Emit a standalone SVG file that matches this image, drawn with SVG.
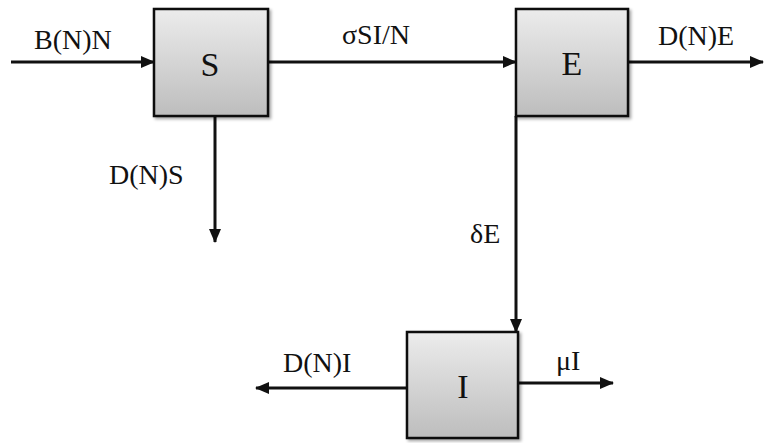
<svg xmlns="http://www.w3.org/2000/svg" width="764" height="443" viewBox="0 0 764 443">
<style>
.box{stroke:#111;stroke-width:2.5;fill:url(#g)}
.ln{stroke:#111;stroke-width:3;fill:none;marker-end:url(#ah)}
.big{font-size:34px}
</style>
<defs>
<linearGradient id="g" x1="0" y1="0" x2="0" y2="1">
<stop offset="0" stop-color="#ececec"/>
<stop offset="1" stop-color="#bdbdbd"/>
</linearGradient>
<filter id="sh" x="-10%" y="-10%" width="130%" height="130%">
<feDropShadow dx="2" dy="2" stdDeviation="1.5" flood-color="#000" flood-opacity="0.35"/>
</filter>
<marker id="ah" markerWidth="14" markerHeight="12" refX="13" refY="6" orient="auto" markerUnits="userSpaceOnUse">
<path d="M0,0 L14,6 L0,12 Z" fill="#111"/>
</marker>
</defs>
<g font-family="'Liberation Serif', 'Times New Roman', serif" font-size="28" fill="#111">
<g id="connectors">
<path class="ln" d="M11,62 H154"/>
<path class="ln" d="M268,62 H516"/>
<path class="ln" d="M628,62 H763"/>
<path class="ln" d="M215,116 V242"/>
<path class="ln" d="M516,116 V332"/>
<path class="ln" d="M407,388 H256"/>
<path class="ln" d="M518,383 H613"/>
<text x="34" y="49">B(N)N</text>
<text x="342" y="44">σSI/N</text>
<text x="658" y="45">D(N)E</text>
<text x="109" y="184">D(N)S</text>
<text x="470" y="243">δE</text>
<text x="283" y="372">D(N)I</text>
<text x="556" y="370">μI</text>
</g>
<g id="S">
<rect class="box" x="154" y="9" width="114" height="107" filter="url(#sh)"/>
<text class="big" x="210" y="76" text-anchor="middle">S</text>
</g>
<g id="E">
<rect class="box" x="516" y="9" width="112" height="107" filter="url(#sh)"/>
<text class="big" x="572" y="75" text-anchor="middle">E</text>
</g>
<g id="I">
<rect class="box" x="407" y="332" width="111" height="106" filter="url(#sh)"/>
<text class="big" x="463" y="398" text-anchor="middle">I</text>
</g>
</g>
</svg>
